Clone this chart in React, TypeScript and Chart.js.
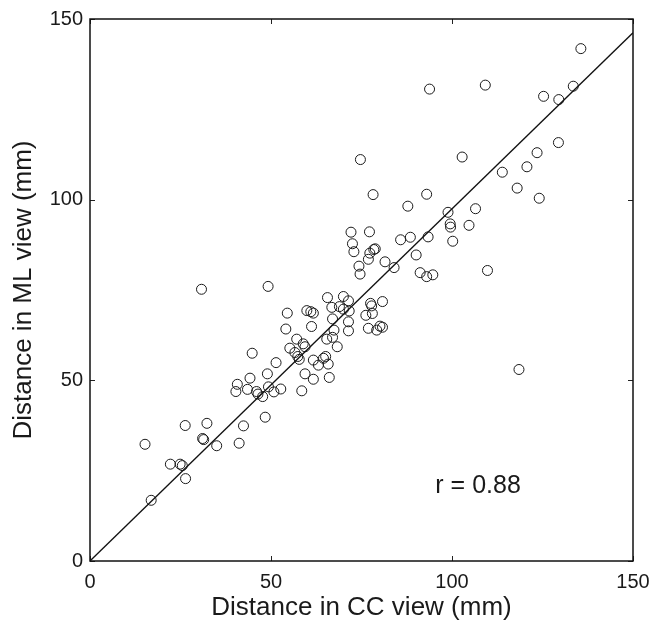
import React, { useEffect, useRef } from 'react';
import { Chart, registerables } from 'chart.js';

Chart.register(...registerables);

// Distance in CC view (mm) for each lesion
const CC_VIEW = [
  16.9, 15.2, 22.2, 24.9, 25.5, 26.4, 26.3, 31.1, 31.4, 32.3, 35.0, 42.4, 41.2, 48.4, 44.8, 51.4, 49.0, 44.2, 40.7, 40.3,
  43.5, 46.0, 46.4, 47.7, 49.3, 50.8, 52.7, 30.8, 49.2,
  58.5, 59.4, 61.7, 66.1, 61.7, 63.1, 64.5, 65.1, 65.8, 56.6, 57.4, 57.8, 55.2, 57.1, 58.9, 59.4, 54.1, 61.2, 54.5, 59.9,
  61.0, 61.7, 65.6, 70.0, 71.4, 66.8, 68.9, 70.0, 71.6, 67.0, 71.4, 67.4, 71.4, 65.4, 67.0, 68.3, 77.5, 77.8, 80.8, 76.2,
  78.0, 76.9, 79.2, 80.1, 80.8,
  72.9, 74.3, 74.6, 81.5, 84.0, 90.1, 91.2, 93.0, 94.7, 76.9, 77.3, 78.4, 78.8, 72.1, 77.2, 72.5, 85.8, 88.5, 93.4, 74.7,
  78.2, 93.0, 87.8, 98.9, 99.5, 99.6, 104.7, 106.5, 100.2, 109.8, 102.8, 113.9, 118.0, 120.7, 123.5, 124.1, 129.4, 93.8,
  109.2, 125.3, 129.5, 133.5, 135.6, 118.5,
];

// Distance in ML view (mm) for each lesion
const ML_VIEW = [
  16.8, 32.3, 26.8, 26.8, 26.4, 22.8, 37.5, 33.9, 33.6, 38.1, 31.9, 37.4, 32.6, 39.8, 57.5, 54.9, 51.8, 50.6, 48.9, 46.9,
  47.5, 46.9, 46.2, 45.5, 48.2, 46.8, 47.6, 75.2, 76.0,
  47.1, 51.8, 50.3, 50.8, 55.6, 54.2, 56.1, 56.6, 54.5, 57.7, 56.6, 55.8, 58.9, 61.4, 60.1, 59.3, 64.2, 64.9, 68.6, 69.3,
  69.0, 68.6, 72.9, 73.2, 72.0, 70.2, 70.4, 69.7, 69.2, 67.0, 66.2, 63.9, 63.7, 61.4, 61.9, 59.3, 71.3, 70.6, 71.8, 68.0,
  68.5, 64.4, 63.9, 65.0, 64.7,
  85.6, 81.6, 79.4, 82.8, 81.2, 84.7, 79.8, 78.7, 79.2, 83.5, 85.2, 86.2, 86.4, 91.0, 91.1, 87.8, 88.9, 89.6, 89.7, 111.1,
  101.4, 101.5, 98.2, 96.5, 93.3, 92.4, 92.9, 97.5, 88.5, 80.4, 111.8, 107.6, 103.2, 109.1, 113.0, 100.4, 115.8, 130.6,
  131.7, 128.6, 127.7, 131.4, 141.8, 53.0,
];

// Regression line end points
const FIT_X = [0, 150];
const FIT_Y = [0, 146.2];

const AXIS_TICKS = [0, 50, 100, 150];
const X_TITLE = 'Distance in CC view (mm)';
const Y_TITLE = 'Distance in ML view (mm)';
const R_LABEL = 'r = 0.88';
const R_LABEL_AT = [107.2, 18.8];

const FONT = '"Liberation Sans", Arial, Helvetica, sans-serif';
const INK = '#1a1a1a';

const framePlugin = {
  id: 'frame',
  afterDatasetsDraw(chart: any) {
    const { ctx, chartArea: a, scales } = chart;
    const x = scales.x;
    const y = scales.y;
    ctx.save();
    ctx.strokeStyle = '#222';
    ctx.lineWidth = 1;
    ctx.beginPath();
    for (const v of AXIS_TICKS) {
      const px = Math.round(x.getPixelForValue(v)) + 0.5;
      ctx.moveTo(px, a.bottom);
      ctx.lineTo(px, a.bottom - 5);
      ctx.moveTo(px, a.top);
      ctx.lineTo(px, a.top + 5);
      const py = Math.round(y.getPixelForValue(v)) + 0.5;
      ctx.moveTo(a.left, py);
      ctx.lineTo(a.left + 5, py);
      ctx.moveTo(a.right, py);
      ctx.lineTo(a.right - 5, py);
    }
    ctx.stroke();
    ctx.strokeStyle = '#111';
    ctx.lineWidth = 1.5;
    ctx.strokeRect(a.left, a.top, a.right - a.left, a.bottom - a.top);
    ctx.font = `25px ${FONT}`;
    ctx.fillStyle = INK;
    ctx.textAlign = 'center';
    ctx.textBaseline = 'alphabetic';
    ctx.fillText(R_LABEL, x.getPixelForValue(R_LABEL_AT[0]), y.getPixelForValue(R_LABEL_AT[1]));
    ctx.restore();
  },
};

export default function App() {
  const canvasRef = useRef<HTMLCanvasElement | null>(null);

  useEffect(() => {
    const canvas = canvasRef.current;
    if (!canvas) return;
    const points = CC_VIEW.map((v, i) => ({ x: v, y: ML_VIEW[i] }));
    const fit = FIT_X.map((v, i) => ({ x: v, y: FIT_Y[i] }));
    const chart = new Chart(canvas, {
      type: 'scatter',
      data: {
        datasets: [
          {
            data: fit,
            showLine: true,
            borderColor: '#111',
            borderWidth: 1.3,
            pointRadius: 0,
            fill: false,
          },
          {
            data: points,
            pointRadius: 5,
            pointBorderWidth: 1,
            pointBorderColor: '#1a1a1a',
            pointBackgroundColor: 'rgba(0,0,0,0)',
            showLine: false,
          },
        ],
      },
      options: {
        animation: false,
        responsive: false,
        devicePixelRatio: 1,
        events: [],
        layout: { padding: { top: 19, right: 32, left: 0, bottom: 0 } },
        plugins: { legend: { display: false }, tooltip: { enabled: false } },
        scales: {
          x: {
            type: 'linear',
            min: 0,
            max: 150,
            grid: { display: false, drawTicks: false },
            border: { display: false },
            afterBuildTicks: (s: any) => {
              s.ticks = AXIS_TICKS.map((v) => ({ value: v }));
            },
            afterFit: (s: any) => {
              s.height = 61;
            },
            ticks: { font: { family: FONT, size: 20 }, color: INK, padding: 9, maxRotation: 0 },
            title: {
              display: true,
              text: X_TITLE,
              font: { family: FONT, size: 26 },
              color: INK,
              padding: { top: 0, bottom: -1 },
            },
          },
          y: {
            type: 'linear',
            min: 0,
            max: 150,
            grid: { display: false, drawTicks: false },
            border: { display: false },
            afterBuildTicks: (s: any) => {
              s.ticks = AXIS_TICKS.map((v) => ({ value: v }));
            },
            afterFit: (s: any) => {
              s.width = 90;
            },
            ticks: { font: { family: FONT, size: 20 }, color: INK, padding: 7 },
            title: {
              display: true,
              text: Y_TITLE,
              font: { family: FONT, size: 26 },
              color: INK,
              padding: { top: 8, bottom: 0 },
            },
          },
        },
      },
      plugins: [framePlugin],
    });
    return () => chart.destroy();
  }, []);

  return (
    <div style={{ position: 'absolute', left: 0, top: 0, width: 665, height: 622, background: '#fff' }}>
      <canvas ref={canvasRef} width={665} height={622} style={{ display: 'block' }} />
    </div>
  );
}
